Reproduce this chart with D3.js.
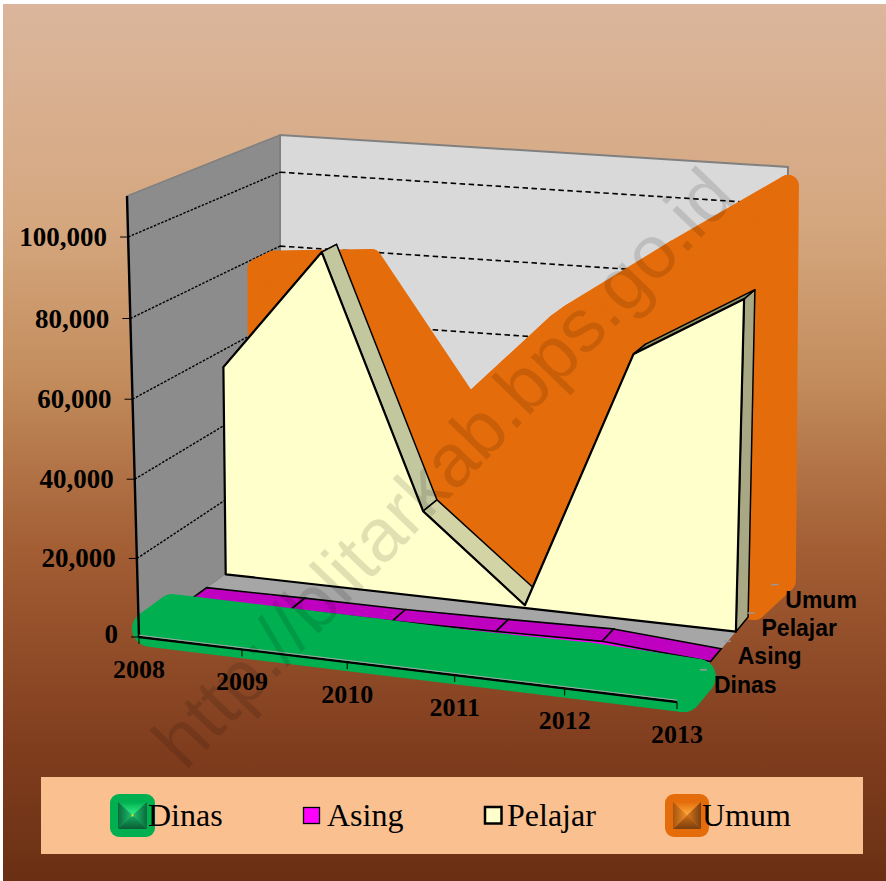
<!DOCTYPE html>
<html><head><meta charset="utf-8">
<script src="https://cdn.jsdelivr.net/npm/d3@7"></script>
<style>html,body{margin:0;padding:0;background:#fff}svg{display:block}</style></head>
<body><div id="chart"></div>
<script>
const years = [2008, 2009, 2010, 2011, 2012, 2013];
const seriesNames = ["Dinas", "Asing", "Pelajar", "Umum"];
const dinas   = [100, 150, 200, 150, 800, 100];
const asing   = [100, 300, 400, 1000, 1800, 100];
const pelajar = [55500, 87800, 22500, 500, 68500, 84800];
const umum    = [76600, 78800, 40500, 68000, 87000, 105000];
const yTicks  = [0, 20000, 40000, 60000, 80000, 100000];
const legendLabels = ["Dinas", "Asing", "Pelajar", "Umum"];
const watermark = "http://blitarkab.bps.go.id";

const W = 886, H = 881;
const svg = d3.select("#chart").append("svg").attr("width", W).attr("height", H);
const defs = svg.append("defs");
const bg = defs.append("linearGradient").attr("id","bg").attr("x1",0).attr("y1",0).attr("x2",0).attr("y2",1);
[[0,"#DBB69C"],[0.25,"#D5A77F"],[0.42,"#C48E5E"],[0.62,"#A35E34"],[0.85,"#803D1E"],[1,"#6A3013"]]
  .forEach(d=>bg.append("stop").attr("offset",d[0]).attr("stop-color",d[1]));
svg.append("rect").attr("x",3).attr("y",4).attr("width",W-3).attr("height",H-4).attr("fill","url(#bg)");

// scales: unit cube, then projected through the eight visible box corners
const xS = d3.scaleLinear().domain([2008,2013]).range([0,1]);
const yS = d3.scaleLinear().domain([0,110000]).range([0,1]);
const zBand = d3.scaleBand().domain(seriesNames).range([0.135,0.96]).paddingInner(0.5625);
const tickR = d3.scalePoint().domain(seriesNames).range([0.25,0.91]);
const corners = {
  f0b:[139,637], f0t:[127,196], f1b:[677,702], f1t:[697,234],
  b0b:[280,535], b0t:[280,135], b1b:[785,573], b1t:[788,167]
};
const warp = (u,c) => u*(1+c)/(1+c*u);
const lerp=(a,b,t)=>[a[0]+(b[0]-a[0])*t,a[1]+(b[1]-a[1])*t];
function proj(year,val,depth){
  const u=warp(xS(year),-0.053), v=warp(yS(val),-0.025), t=warp(depth,-0.25*u), c=corners;
  const f0=lerp(c.f0b,c.f0t,v), f1=lerp(c.f1b,c.f1t,v), b0=lerp(c.b0b,c.b0t,v), b1=lerp(c.b1b,c.b1t,v);
  return lerp(lerp(f0,f1,u),lerp(b0,b1,u),t);
}
const poly = pts => "M"+pts.map(p=>p[0].toFixed(1)+","+p[1].toFixed(1)).join("L")+"Z";
const line = pts => "M"+pts.map(p=>p[0].toFixed(1)+","+p[1].toFixed(1)).join("L");
const [Y0,Y1]=xS.domain(), VT=yS.domain()[1];
const g = svg.append("g");

// walls and floor
g.append("path").attr("d",poly([proj(Y0,0,0),proj(Y0,VT,0),proj(Y0,VT,1),proj(Y0,0,1)])).attr("fill","#8C8C8C").attr("stroke","#808080").attr("stroke-width",1.5);
g.append("path").attr("d",poly([proj(Y0,0,1),proj(Y0,VT,1),proj(Y1,VT,1),proj(Y1,0,1)])).attr("fill","#D9D9D9").attr("stroke","#808080").attr("stroke-width",2);
g.append("path").attr("d",poly([proj(Y0,0,0),proj(Y1,0,0),proj(Y1,0,1),proj(Y0,0,1)])).attr("fill","#A6A6A6");
yTicks.filter(d=>d>0).forEach(v=>{
  g.append("path").attr("d",line([proj(Y0,v,0),proj(Y0,v,1)])).attr("stroke","#000").attr("stroke-width",1.4).attr("stroke-dasharray","2.5,1.5").attr("fill","none");
  g.append("path").attr("d",line([proj(Y0,v,1),proj(Y1,v,1)])).attr("stroke","#000").attr("stroke-width",1.6).attr("stroke-dasharray","5.5,3.5").attr("fill","none");
});

function band(name){return [zBand(name),zBand(name)+zBand.bandwidth()];}
function blob(vals,z0,z1,z1End,color,sw,zFloorEnd,floorDip){
  const gg=g.append("g").attr("fill",color).attr("stroke",color).attr("stroke-width",sw).attr("stroke-linejoin","round");
  const front=[proj(Y0,0,z0),...years.map((y,i)=>proj(y,vals[i],z0)),proj(Y1,0,zFloorEnd)];
  gg.append("path").attr("d",poly(front));
  const back=i=>i===years.length-1?z1End:z1;
  for(let i=0;i<years.length-1;i++){
    gg.append("path").attr("d",poly([proj(years[i],vals[i],z0),proj(years[i+1],vals[i+1],z0),proj(years[i+1],vals[i+1],back(i+1)),proj(years[i],vals[i],back(i))]));
  }
  gg.append("path").attr("d",poly([proj(Y1,0,zFloorEnd),proj(Y1,vals[5],z0),proj(Y1,vals[5],z1End),proj(Y1,floorDip,z1End)]));
}
const [u0,u1]=band("Umum");
blob(umum,u0,u1,u1+0.04,"#E46C0A",22,u0-0.08,-2200);

// Pelajar
const [p0,p1]=band("Pelajar");
const sideCols=["#C8CBA3","#C3C79E","#D2D4A6","#B8BA94","#8F8F6C"];
const gp=g.append("g").attr("stroke","#000").attr("stroke-linejoin","round");
gp.append("path").attr("d",poly([proj(Y1,0,p0),proj(Y1,pelajar[5],p0),proj(Y1,pelajar[5],p1),proj(Y1,0,p1)])).attr("fill","#A8A884").attr("stroke-width",1.5);
for(let i=0;i<years.length-1;i++){
  gp.append("path").attr("d",poly([proj(years[i],pelajar[i],p0),proj(years[i+1],pelajar[i+1],p0),proj(years[i+1],pelajar[i+1],p1),proj(years[i],pelajar[i],p1)])).attr("fill",sideCols[i]).attr("stroke-width",1.5);
}
gp.append("path").attr("d",poly([proj(Y0,0,p0),...years.map((y,i)=>proj(y,pelajar[i],p0)),proj(Y1,0,p0)])).attr("fill","#FFFFCC").attr("stroke-width",2.2);

// Asing
const [a0,a1]=band("Asing");
g.append("path").attr("d",poly([proj(Y0,0,a0),...years.map((y,i)=>proj(y,asing[i],a0)),proj(Y1,0,a0)])).attr("fill","#FF00FF").attr("stroke","#FF00FF").attr("stroke-width",1);
for(let i=0;i<years.length-1;i++){
  g.append("path").attr("d",poly([proj(years[i],asing[i],a0),proj(years[i+1],asing[i+1],a0),proj(years[i+1],asing[i+1],a1),proj(years[i],asing[i],a1)])).attr("fill","#C000C0").attr("stroke","#000").attr("stroke-width",1.6);
}

// Dinas
const [d0,d1]=band("Dinas");
blob(dinas,d0-0.055,d1,d1,"#00B050",36,d0-0.055,0);

// axes
g.append("path").attr("d",line([proj(Y0,VT,0),proj(Y0,0,0)])).attr("stroke","#000").attr("stroke-width",2.4).attr("fill","none");
g.append("path").attr("d",line([proj(Y0,0,0),proj(Y1,0,0)])).attr("stroke","#000").attr("stroke-width",2.4).attr("fill","none");
g.append("path").attr("d",line([proj(Y0,0,0),proj(Y1,0,0)].map(p=>[p[0],p[1]-1.8]))).attr("stroke","#A6A6A6").attr("stroke-width",1).attr("fill","none");
const fmt=d3.format(",");
yTicks.forEach(v=>{
  const p=proj(Y0,v,0);
  g.append("line").attr("x1",p[0]-8).attr("x2",p[0]).attr("y1",p[1]).attr("y2",p[1]).attr("stroke","#000").attr("stroke-width",1);
  g.append("text").attr("x",p[0]-21).attr("y",p[1]+(v===0?6:9)).attr("text-anchor","end").attr("font-family","Liberation Serif").attr("font-weight","bold").attr("font-size",27).text(fmt(v));
});
years.forEach(y=>{
  const p=proj(y,0,0);
  g.append("line").attr("x1",p[0]).attr("x2",p[0]).attr("y1",p[1]).attr("y2",p[1]+7).attr("stroke","#000").attr("stroke-width",1);
  g.append("text").attr("x",p[0]).attr("y",p[1]+41).attr("text-anchor","middle").attr("font-family","Liberation Serif").attr("font-weight","bold").attr("font-size",26).text(y);
});
// depth axis labels
seriesNames.forEach(s=>{
  const p=lerp(proj(Y1,0,0),proj(Y1,0,1),tickR(s));
  g.append("line").attr("x1",p[0]-4).attr("x2",p[0]+3).attr("y1",p[1]).attr("y2",p[1]).attr("stroke","#999").attr("stroke-width",1.5);
  g.append("text").attr("x",p[0]+10).attr("y",p[1]+23).attr("font-family","Liberation Sans").attr("font-weight","bold").attr("font-size",23).text(s);
});

// legend
const lg=svg.append("g");
lg.append("rect").attr("x",41).attr("y",777).attr("width",822).attr("height",77).attr("fill","#FAC090");
let gid=0;
function pyramid(x,y,w,h,base,faces,dot){
  const cx=x+w/2,cy=y+h/2;
  lg.append("rect").attr("x",x-8).attr("y",y-8).attr("width",w+16).attr("height",h+16).attr("rx",9).attr("fill",base);
  [[[x,y],[x+w,y],[cx,y]],[[x+w,y],[x+w,y+h],[x+w,cy]],[[x+w,y+h],[x,y+h],[cx,y+h]],[[x,y+h],[x,y],[x,cy]]].forEach((f,i)=>{
    const id="pg"+(gid++);
    const gr=defs.append("linearGradient").attr("id",id).attr("gradientUnits","userSpaceOnUse").attr("x1",f[2][0]).attr("y1",f[2][1]).attr("x2",cx).attr("y2",cy);
    gr.append("stop").attr("offset",0).attr("stop-color",faces[i][0]);
    gr.append("stop").attr("offset",1).attr("stop-color",faces[i][1]);
    lg.append("path").attr("d",poly([f[0],f[1],[cx,cy]])).attr("fill","url(#"+id+")");
  });
  if(dot) lg.append("rect").attr("x",cx-1).attr("y",cy-1).attr("width",2).attr("height",2).attr("fill",dot);
}
pyramid(118,802,29,27,"#00B050",[["#00B050","#3CF08A"],["#0A6A3C","#20C070"],["#0A5C34","#17A860"],["#0A6A3C","#20C070"]],"#FFE000");
lg.append("rect").attr("x",303.5).attr("y",807.5).attr("width",16).attr("height",16).attr("fill","#FF00FF").attr("stroke","#000").attr("stroke-width",1.3);
lg.append("rect").attr("x",485).attr("y",807).attr("width",16.5).attr("height",16.5).attr("fill","#FFFFCC").attr("stroke","#000").attr("stroke-width",2.5);
pyramid(673,802,28,27,"#E46C0A",[["#E46C0A","#FFB040"],["#7A3F0E","#D87A20"],["#7A3F0E","#C86A18"],["#A8550C","#F09030"]],null);
const lx=[148,327,507,702];
legendLabels.forEach((s,i)=>lg.append("text").attr("x",lx[i]).attr("y",826).attr("font-family","Liberation Serif").attr("font-size",32).attr("fill","#000").text(s));

// watermark
svg.append("text").attr("transform","translate(185,772) rotate(-46)").attr("font-family","Liberation Sans").attr("font-size",75).attr("fill","#000").attr("fill-opacity",0.12).text(watermark);
</script></body></html>
